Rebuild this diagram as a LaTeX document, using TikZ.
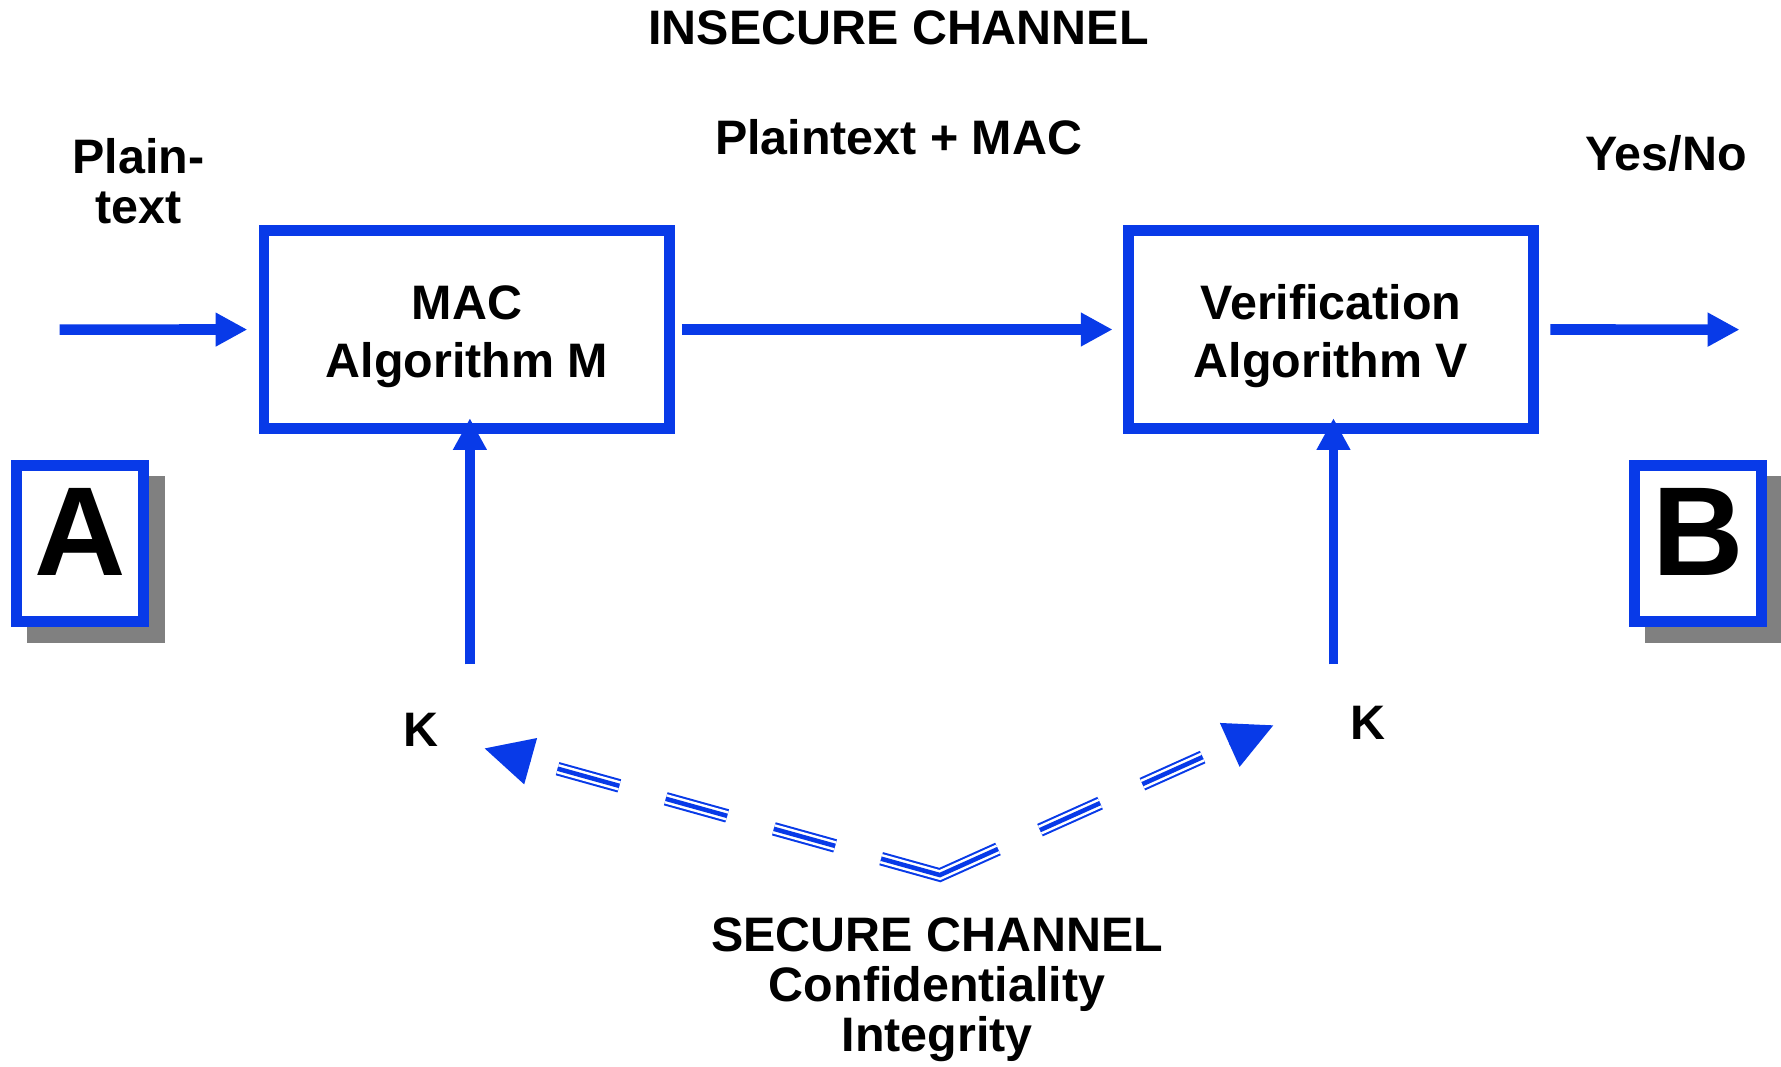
\documentclass[tikz,border=0pt]{standalone}
\usepackage{fontspec}
\setmainfont{Liberation Sans}
\usetikzlibrary{arrows.meta,calc,shadows}
\definecolor{chanblue}{RGB}{8,58,232}
\begin{document}
\begin{tikzpicture}[x=0.01cm,y=-0.01cm,line join=miter,>={Triangle[length=0.28cm,width=0.28cm]}]
	\tikzset{every node/.style={font=\bfseries\fontsize{12.12}{12.52}\selectfont,inner sep=0pt},
		algbox/.style={draw=chanblue,line width=0.094cm,minimum width=3.569cm,minimum height=1.746cm,align=center,font=\bfseries\fontsize{12.12}{14.5}\selectfont,text height=0.842cm,text depth=0cm},
		party/.style={draw=chanblue,fill=white,line width=0.094cm,minimum width=1.121cm,minimum height=1.376cm,font=\bfseries\fontsize{31.7}{32}\selectfont,text depth=0.2cm,
			drop shadow={shadow xshift=0.14cm,shadow yshift=-0.14cm,fill=gray,draw=gray,line width=0.094cm,opacity=1}},
		flow/.style={draw=chanblue,line width=0.094cm,->},
		keyflow/.style={draw=chanblue,line width=0.084cm,->},
		securedash/.style={dash pattern=on 0cm off 0.246cm on 0.564cm off 0.424cm on 0.561cm off 0.426cm on 0.56cm off 0.42cm on 1.097cm off 0.405cm on 0.58cm off 0.408cm on 0.581cm off 1cm}}
	\useasboundingbox (0,0) rectangle (1568,939);
	% the two parties
	\node[party] (a) at (70.45,478.5) {A};
	\node[party] (b) at (1494.95,478.5) {B};
	% algorithm boxes
	\node[algbox] (mac) at (411.05,290.1) {MAC\\Algorithm M};
	\node[algbox] (ver) at (1171.8,290.1) {Verification\\Algorithm V};
	% labels
	\node[anchor=base] (insecure) at (791.2,39.6) {INSECURE CHANNEL};
	\node[anchor=base] (ptmac) at (791.2,135.6) {Plaintext + MAC};
	\node[anchor=base,align=center] (plain) at (122,197.2) {Plain-\\text};
	\node[anchor=base] (yesno) at (1466.7,149.7) {Yes/No};
	\node[anchor=base] (k1) at (370.9,656.8) {K};
	\node[anchor=base] (k2) at (1204.4,651) {K};
	\node[anchor=base,align=center] (secure) at (825,926) {SECURE CHANNEL\\Confidentiality\\Integrity};
	% insecure channel
	\coordinate (in) at (52.5,290.2);
	\coordinate (out) at (1531.5,290.2);
	\draw[flow,shorten >=0.1cm] (in) -- (mac);
	\draw[flow,shorten <=0.06cm,shorten >=0.09cm] (mac) -- (ver);
	\draw[flow,shorten <=0.1cm] (ver) -- (out);
	% keys
	\coordinate (kin1) at (413.7,584.9);
	\coordinate (kin2) at (1174,584.9);
	\draw[keyflow,shorten >=-0.14cm] (kin1) -- (kin1 |- mac.south);
	\draw[keyflow,shorten >=-0.14cm] (kin2) -- (kin2 |- ver.south);
	% secure channel
	\coordinate (kl) at (426.7,658.9);
	\coordinate (sc) at (827.5,770.4);
	\coordinate (kr) at (1121,638.6);
	\coordinate (bl) at ($(kl)!0.42cm!(sc)$);
	\coordinate (br) at ($(kr)!0.42cm!(sc)$);
	\foreach \w/\c in {0.12/chanblue,0.084/white,0.04/chanblue}
	\draw[color=\c,line width=\w cm,securedash] (bl) -- (sc) -- (br);
	\draw[chanblue,-{Triangle[length=0.42cm,width=0.42cm]}] (bl) -- (kl);
	\draw[chanblue,-{Triangle[length=0.42cm,width=0.42cm]}] (br) -- (kr);
\end{tikzpicture}
\end{document}
